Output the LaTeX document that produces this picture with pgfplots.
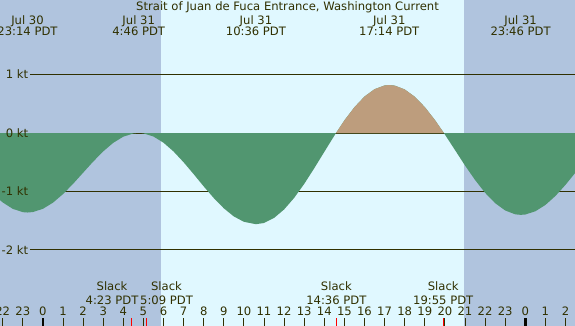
\documentclass[border=0pt]{standalone}
\usepackage{fontspec}
\setmainfont{DejaVu Sans}
\usepackage{pgfplots}
\usepackage{pgfplotstable}
\pgfplotsset{compat=1.18}

\definecolor{nightbg}{RGB}{176,196,222}
\definecolor{daybg}{RGB}{224,248,255}
\definecolor{ebb}{RGB}{81,150,112}
\definecolor{flood}{RGB}{189,157,125}
\definecolor{ink}{RGB}{48,48,0}

\newcommand{\lbl}{\fontsize{11.6bp}{12bp}\selectfont}

% Predicted current speed (kt) against hours from midnight, Jul 31 (PDT)
\pgfplotstableread{
t v
-2.2 -1.128
-2.0 -1.187
-1.5 -1.297
-1.0 -1.354
-0.767 -1.360
-0.5 -1.352
0.0 -1.297
0.5 -1.192
1.0 -1.045
1.5 -0.870
2.0 -0.680
2.5 -0.490
3.0 -0.315
3.5 -0.168
4.0 -0.063
4.5 -0.008
4.767 0.000
5.0 -0.006
5.5 -0.060
6.0 -0.166
6.5 -0.316
7.0 -0.500
7.5 -0.703
8.0 -0.913
8.5 -1.112
9.0 -1.288
9.5 -1.427
10.0 -1.519
10.6 -1.560
11.0 -1.539
11.5 -1.453
12.0 -1.308
12.5 -1.110
13.0 -0.871
13.5 -0.603
14.0 -0.323
14.5 -0.045
14.584 0.000
15.0 0.215
15.5 0.441
16.0 0.623
16.5 0.749
17.0 0.813
17.233 0.820
17.5 0.811
18.0 0.745
18.5 0.620
19.0 0.443
19.5 0.223
19.95 0.000
20.0 -0.026
20.5 -0.290
21.0 -0.555
21.5 -0.803
22.0 -1.023
22.5 -1.200
23.0 -1.325
23.5 -1.391
23.767 -1.400
24.0 -1.394
24.5 -1.339
25.0 -1.231
25.5 -1.077
26.0 -0.887
26.5 -0.675
}\current

% Flood part of the curve (current above zero)
\pgfplotstableread{
t v
14.584 0.000
15.0 0.215
15.5 0.441
16.0 0.623
16.5 0.749
17.0 0.813
17.233 0.820
17.5 0.811
18.0 0.745
18.5 0.620
19.0 0.443
19.5 0.223
19.95 0.000
}\flood

\newcommand{\evt}[3]{%
  \node[anchor=base, text=ink, font=\lbl, inner sep=0pt] at (axis cs:#1,1.859) {#2};
  \node[anchor=base, text=ink, font=\lbl, inner sep=0pt] at (axis cs:#1,1.664) {#3};}
\newcommand{\slack}[2]{%
  \node[anchor=base, text=ink, font=\lbl, inner sep=0pt] at (axis cs:#1,-2.702) {Slack};
  \node[anchor=base, text=ink, font=\lbl, inner sep=0pt] at (axis cs:#1,-2.930) {#2};}
\newcommand{\ylab}[1]{%
  \node[anchor=base east, text=ink, font=\lbl, inner sep=0pt, yshift=-4.2bp] at (axis cs:-0.72,#1) {#1 kt};}

\begin{document}
\begin{tikzpicture}
\begin{axis}[
  name=ax,
  scale only axis,
  width=575bp, height=326bp,
  xmin=-2.134, xmax=26.473,
  ymin=-3.301, ymax=2.275,
  axis line style={draw=none},
  axis on top,
  ytick=\empty,
  xtick pos=left,
  xtick={-2,-1,...,26},
  xticklabels={22,23,0,1,2,3,4,5,6,7,8,9,10,11,12,13,14,15,16,17,18,19,20,21,22,23,0,1,2},
  tick align=inside,
  major tick length=7.7bp,
  tick style={draw=ink, line width=0.8bp},
  xticklabel style={anchor=base, yshift=10.3bp, text=ink, font=\lbl, inner sep=0pt},
  extra x ticks={0,24},
  extra x tick labels={},
  extra x tick style={tick style={draw=black!85!ink, line width=2.6bp}},
]
% night and daylight backgrounds
\addplot[draw=none, fill=nightbg] coordinates {(-2.2,-3.4) (-2.2,2.4) (5.876,2.4) (5.876,-3.4)} -- cycle;
\addplot[draw=none, fill=daybg] coordinates {(5.876,-3.4) (5.876,2.4) (20.95,2.4) (20.95,-3.4)} -- cycle;
\addplot[draw=none, fill=nightbg] coordinates {(20.95,-3.4) (20.95,2.4) (26.6,2.4) (26.6,-3.4)} -- cycle;

% speed reference lines
\addplot[ink, line width=1bp] coordinates {(-0.642,1) (26.6,1)};
\addplot[ink, line width=1bp] coordinates {(-0.642,0) (26.6,0)};
\addplot[ink, line width=1bp] coordinates {(-0.642,-1) (26.6,-1)};
\addplot[ink, line width=1bp] coordinates {(-0.642,-2) (26.6,-2)};

% ebb and flood areas
\addplot[draw=none, fill=ebb] table {\current} \closedcycle;
\addplot[draw=none, fill=flood] table {\flood} \closedcycle;

% slack times on the time axis
\addplot[red, line width=0.9bp, unbounded coords=jump] coordinates {
  (4.383,-3.17) (4.383,-3.31) (4.383,nan)
  (5.15,-3.17) (5.15,-3.31) (5.15,nan)
  (14.6,-3.17) (14.6,-3.31) (14.6,nan)
  (19.917,-3.17) (19.917,-3.31)};

\node[anchor=base, text=ink, font=\lbl, inner sep=0pt] at (axis cs:12.169,2.087) {Strait of Juan de Fuca Entrance, Washington Current};

\evt{-0.767}{Jul 30}{23:14 PDT}
\evt{4.767}{Jul 31}{4:46 PDT}
\evt{10.6}{Jul 31}{10:36 PDT}
\evt{17.233}{Jul 31}{17:14 PDT}
\evt{23.767}{Jul 31}{23:46 PDT}

\slack{3.44}{4:23 PDT}
\slack{6.15}{5:09 PDT}
\slack{14.6}{14:36 PDT}
\slack{19.917}{19:55 PDT}

\ylab{1}
\ylab{0}
\ylab{-1}
\ylab{-2}
\end{axis}
\pgfresetboundingbox
\path (ax.south west) rectangle (ax.north east);
\end{tikzpicture}
\end{document}
